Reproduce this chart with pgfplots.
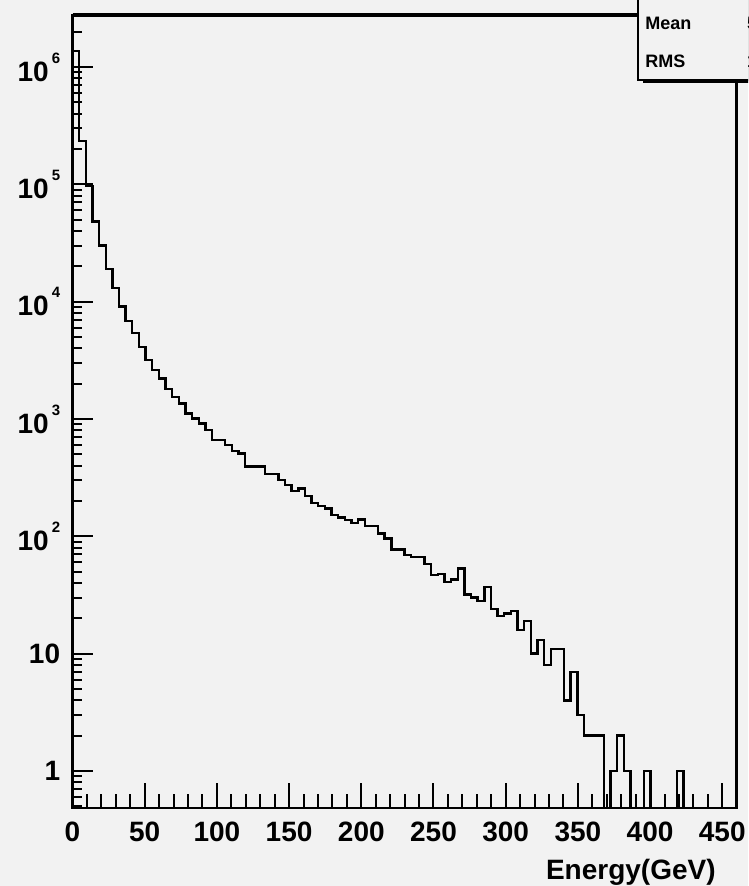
\documentclass[border=0pt]{standalone}
\usepackage{fontspec}
\setmainfont{Liberation Sans}
\usepackage{pgfplots}
\usepackage{pgfplotstable}
\pgfplotsset{compat=1.18}
\definecolor{canvas}{gray}{0.95}
\newcommand\ex[1]{\kern1.5pt\raisebox{9pt}{\fontsize{7.5}{8}\selectfont #1}}

% bin low edge (GeV), entries; 0.01 stands for an empty bin
\pgfplotstableread{
E n
0 1370000
4.6 234000
9.2 97000
13.8 48000
18.4 30000
23.0 19000
27.6 13100
32.2 9100
36.8 6800
41.4 5400
46.0 4100
50.6 3180
55.2 2610
59.8 2220
64.4 1790
69.0 1545
73.6 1357
78.2 1116
82.8 1012
87.4 918
92.0 805
96.6 661
101.2 661
105.8 600
110.4 536
115.0 509
119.6 392
124.2 392
128.8 392
133.4 338
138.0 338
142.6 301
147.2 273
151.8 244
156.4 256
161.0 220
165.6 193
170.2 181
174.8 173
179.4 152
184.0 145
188.6 137
193.2 130
197.8 139
202.4 122
207.0 122
211.6 106
216.2 96
220.8 77
225.4 77
230.0 69
234.6 67
239.2 67
243.8 58
248.4 47
253.0 48
257.6 41
262.2 43
266.8 53
271.4 32
276.0 30
280.6 28
285.2 37
289.8 24
294.4 21
299.0 22
303.6 23
308.2 16
312.8 19
317.4 10
322.0 13
326.6 8
331.2 11
335.8 11
340.4 4
345.0 7
349.6 3
354.2 2
358.8 2
363.4 2
368.0 0.01
372.6 1
377.2 2
381.8 1
386.4 0.01
391.0 0.01
395.6 1
400.2 0.01
404.8 0.01
409.4 0.01
414.0 0.01
418.6 1
423.2 0.01
460.0 0.01
}\energytab

\begin{document}
\begin{tikzpicture}
\useasboundingbox (0,0) rectangle (374pt,443pt);
\clip (0,0) rectangle (374pt,443pt);
\fill[canvas] (0,0) rectangle (374pt,443pt);

\begin{axis}[
    at={(36.25pt,39pt)}, anchor=south west,
    scale only axis, width=332.1pt, height=396.5pt,
    xmin=0, xmax=460,
    ymode=log, ymin=0.484, ymax=2.77e6,
    axis line style={line width=1.3pt},
    xtick=\empty,
    ytick={1,10,100,1000,10000,100000,1000000},
    yticklabels={1,10,10\ex{2},10\ex{3},10\ex{4},10\ex{5},10\ex{6}},
    minor ytick={0.5,0.6,0.7,0.8,0.9,2,3,4,5,6,7,8,9,20,30,40,50,60,70,80,90,
      200,300,400,500,600,700,800,900,2000,3000,4000,5000,6000,7000,8000,9000,
      20000,30000,40000,50000,60000,70000,80000,90000,
      200000,300000,400000,500000,600000,700000,800000,900000,2000000},
    ytick pos=left, tick align=inside,
    major tick length=10pt, minor tick length=4.5pt,
    tick style={black, line width=1pt},
    yticklabel style={font=\fontsize{14}{16}\selectfont\bfseries,
      anchor=east, inner sep=0pt, xshift=-6pt},
]
\addplot[const plot, black, line width=1.2pt] table[x=E, y=n] {\energytab};
\end{axis}

\begin{axis}[
    at={(36.25pt,39pt)}, anchor=south west,
    scale only axis, width=332.1pt, height=396.5pt,
    xmin=0, xmax=460, ymin=0, ymax=1,
    hide y axis, axis x line*=bottom,
    x axis line style={line width=1.3pt},
    xtick={0,50,100,150,200,250,300,350,400,450},
    xticklabels={0,50,100,150,200,250,300,350,400,450},
    minor x tick num=4,
    tick align=inside,
    major tick length=12.5pt, minor tick length=7pt,
    tick style={black, line width=1pt},
    xticklabel style={font=\fontsize{14}{16}\selectfont\bfseries,
      anchor=north, inner sep=0pt, yshift=-6.85pt},
]
\end{axis}

\node[anchor=north east, inner sep=0pt, font=\fontsize{14}{16}\selectfont\bfseries]
  at (358pt,13.5pt) {Energy(GeV)};

% thick top edge of the frame
\draw[line width=2pt] (36.25pt,435.5pt) -- (330pt,435.5pt);

% stats box with its shadow
\fill[black] (321.5pt,401.5pt) rectangle (400pt,460pt);
\filldraw[fill=canvas, draw=black, line width=1.3pt] (319pt,403pt) rectangle (395pt,460pt);
\begin{scope}[every node/.style={anchor=west, inner sep=0pt, font=\fontsize{9}{10}\selectfont\bfseries}]
\node at (322.5pt,431.25pt) {Mean};
\node at (322.5pt,412.25pt) {RMS};
\node at (373.3pt,431.25pt) {5.6};
\node at (373.3pt,412.25pt) {13.3};
\end{scope}
\end{tikzpicture}
\end{document}
